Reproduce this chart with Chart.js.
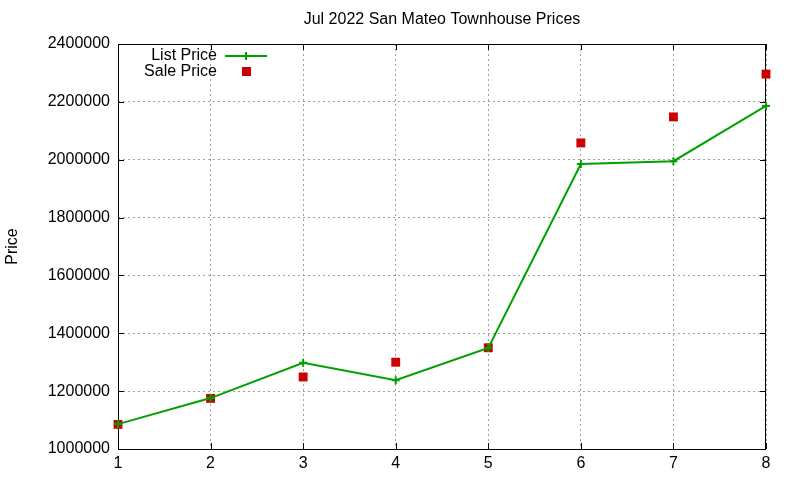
<!DOCTYPE html>
<html>
<head>
<meta charset="utf-8">
<script src="https://cdn.jsdelivr.net/npm/chart.js@4"></script>
<style>
  html, body { margin: 0; padding: 0; background: #fff; }
  #wrap { width: 800px; height: 480px; }
</style>
</head>
<body>
<div id="wrap"><canvas id="priceChart"></canvas></div>
<script>
// data
var months = [1, 2, 3, 4, 5, 6, 7, 8];
var listPrice = [1086000, 1176000, 1298000, 1238000, 1349000, 1985000, 1995000, 2186000];
var salePrice = [1085000, 1175000, 1249000, 1300000, 1350000, 2058000, 2148000, 2296000];
var yTicks = [1000000, 1200000, 1400000, 1600000, 1800000, 2000000, 2200000, 2400000];
var chartTitle = 'Jul 2022 San Mateo Townhouse Prices';

var FONT = '"Liberation Sans", Arial, sans-serif';
Chart.defaults.font.family = FONT;
Chart.defaults.color = '#000';

function toPoints(xs, ys) {
  return xs.map(function (x, i) { return { x: x, y: ys[i] }; });
}

// gnuplot style frame, inward ticks, title and key
var gnuplotFrame = {
  id: 'gnuplotFrame',
  beforeDatasetsDraw: function (chart) {
    var c = chart.ctx, a = chart.chartArea;
    var xs = chart.scales.x, ys = chart.scales.y;
    c.save();
    c.strokeStyle = '#000';
    c.lineWidth = 1;
    c.strokeRect(a.left + 0.5, a.top + 0.5, a.right - a.left - 1, a.bottom - a.top);
    var t = 6;
    c.beginPath();
    ys.ticks.forEach(function (tk) {
      var py = Math.round(ys.getPixelForValue(tk.value)) + 0.5;
      c.moveTo(a.left, py); c.lineTo(a.left + t, py);
      c.moveTo(a.right, py); c.lineTo(a.right - t, py);
    });
    xs.ticks.forEach(function (tk) {
      var px = Math.round(xs.getPixelForValue(tk.value)) + 0.5;
      c.moveTo(px, a.bottom); c.lineTo(px, a.bottom - t);
      c.moveTo(px, a.top); c.lineTo(px, a.top + t);
    });
    c.stroke();
    c.restore();
  },
  afterDraw: function (chart) {
    var c = chart.ctx, a = chart.chartArea;
    c.save();
    // title centred over the plot area
    c.font = '16px ' + FONT;
    c.fillStyle = '#000';
    c.textAlign = 'center';
    c.textBaseline = 'middle';
    c.fillText(chartTitle, (a.left + a.right) / 2, 20);

    // key
    c.font = '16px ' + FONT;
    c.textAlign = 'right';
    var ds0 = chart.data.datasets[0], ds1 = chart.data.datasets[1];
    c.fillText(ds0.label, 217, 56);
    c.fillText(ds1.label, 217, 72);
    c.strokeStyle = ds0.borderColor;
    c.lineWidth = 2;
    c.beginPath();
    c.moveTo(225, 56); c.lineTo(267, 56);
    c.moveTo(246, 52); c.lineTo(246, 60);
    c.stroke();
    c.fillStyle = ds1.backgroundColor;
    c.fillRect(242, 67, 9, 9);
    c.restore();
  }
};

new Chart(document.getElementById('priceChart'), {
  type: 'line',
  data: {
    datasets: [
      {
        label: 'List Price',
        data: toPoints(months, listPrice),
        borderColor: '#00a000',
        backgroundColor: '#00a000',
        borderWidth: 2,
        pointStyle: 'cross',
        pointRadius: 4,
        pointBorderWidth: 2,
        pointHoverRadius: 4,
        tension: 0,
        fill: false,
        clip: false,
      },
      {
        label: 'Sale Price',
        data: toPoints(months, salePrice),
        showLine: false,
        borderColor: '#cc0000',
        backgroundColor: '#cc0000',
        pointStyle: 'rect',
        pointRadius: 6.3,
        pointBorderWidth: 0,
        pointHoverRadius: 6.3,
        clip: false,
      },
    ],
  },
  options: {
    responsive: true,
    maintainAspectRatio: false,
    animation: false,
    layout: { padding: { top: 44, right: 34, left: 0, bottom: 0 } },
    plugins: {
      legend: { display: false },
      title: { display: false },
      tooltip: { enabled: false },
    },
    scales: {
      x: {
        type: 'linear',
        min: 1,
        max: 8,
        ticks: { stepSize: 1, padding: 5, font: { size: 16 } },
        grid: { color: '#a0a0a0', drawTicks: false },
        border: { display: false, dash: [2, 3] },
        afterFit: function (s) { s.height = 31; },
      },
      y: {
        min: 1000000,
        max: 2400000,
        afterBuildTicks: function (s) {
          s.ticks = yTicks.map(function (v) { return { value: v }; });
        },
        ticks: {
          padding: 8,
          font: { size: 16 },
          callback: function (v) { return String(v); },
        },
        grid: { color: '#a0a0a0', drawTicks: false },
        border: { display: false, dash: [2, 3] },
        title: { display: true, text: 'Price', font: { size: 16 }, padding: { top: 3, bottom: 0 } },
        afterFit: function (s) { s.width = 118; },
      },
    },
  },
  plugins: [gnuplotFrame],
});
</script>
</body>
</html>
